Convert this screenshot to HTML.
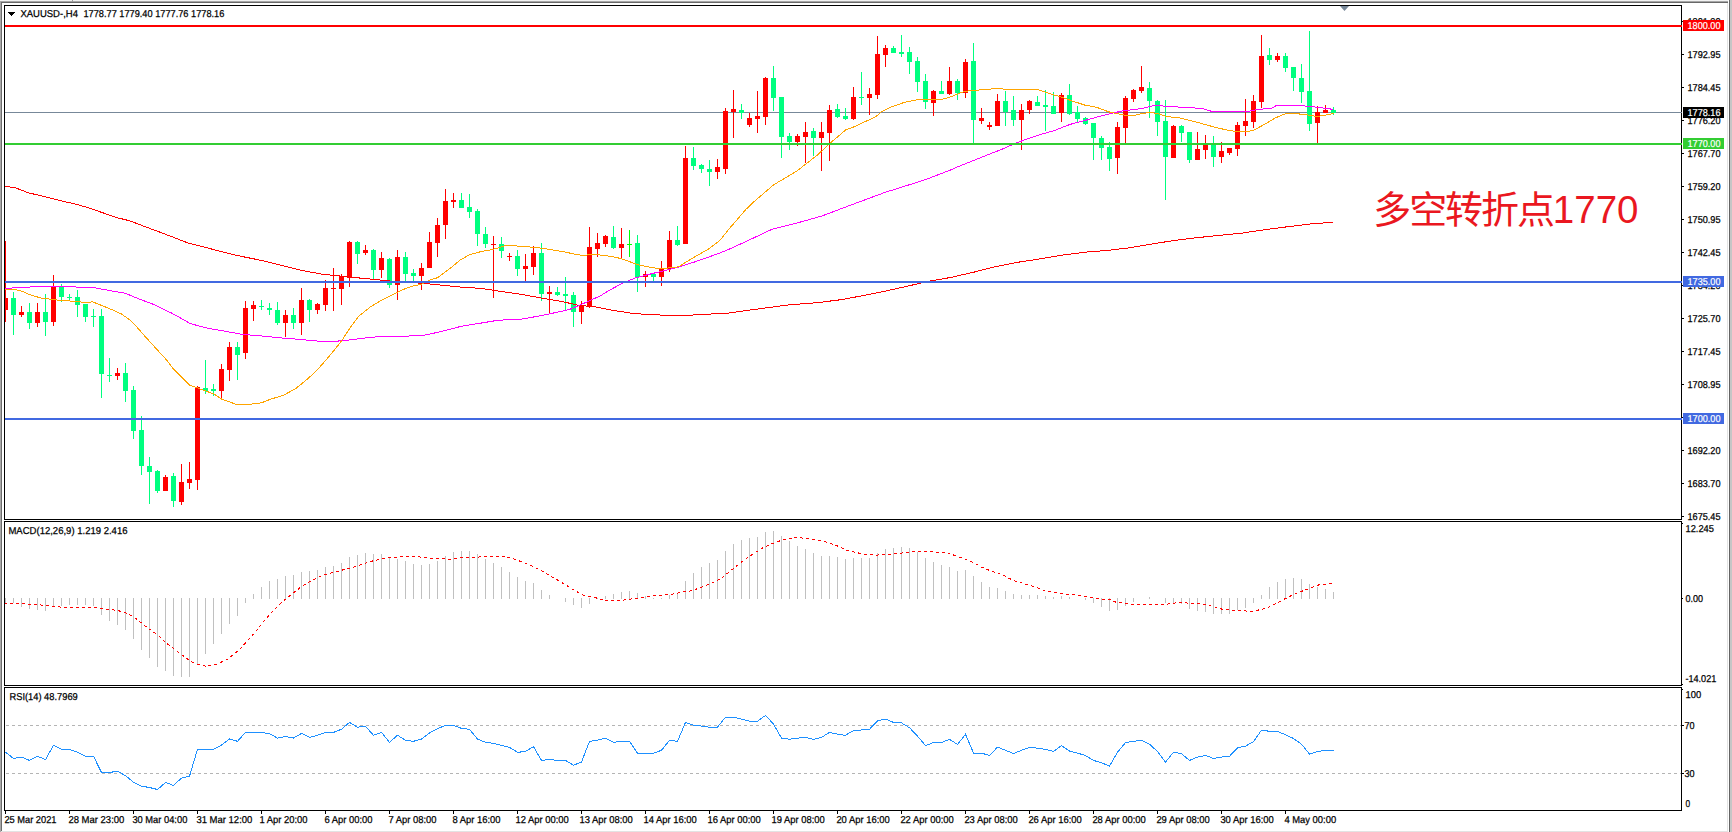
<!DOCTYPE html>
<html><head><meta charset="utf-8"><title>XAUUSD-,H4</title>
<style>
html,body{margin:0;padding:0;background:#fff;width:1732px;height:832px;overflow:hidden}
svg{display:block}
.t{font-family:"Liberation Sans", Arial, sans-serif;font-size:10px;fill:#000;stroke:#000;stroke-width:0.25px;text-rendering:geometricPrecision}
.w{font-family:"Liberation Sans", Arial, sans-serif;font-size:10px;fill:#fff;stroke:#fff;stroke-width:0.2px;text-rendering:geometricPrecision}
.cn{font-family:"Liberation Sans","Noto Sans CJK SC",sans-serif;font-size:36px;fill:#ea1720}
</style></head><body>
<svg width="1732" height="832" viewBox="0 0 1732 832">
<defs>
<clipPath id="cm"><rect x="5" y="6" width="1676" height="513"/></clipPath>
<clipPath id="cd"><rect x="5" y="522" width="1676" height="163"/></clipPath>
<clipPath id="cr"><rect x="5" y="688" width="1676" height="122"/></clipPath>
</defs>
<rect x="0" y="0" width="1732" height="832" fill="#fff"/>
<rect x="0" y="0" width="1728" height="1" fill="#f2f2f2"/>
<rect x="0" y="1" width="1728" height="1" fill="#a6a6a6"/>
<rect x="1" y="2" width="1727" height="1" fill="#686868"/>
<rect x="0" y="1" width="1" height="831" fill="#a8a8a8"/>
<rect x="1" y="2" width="1" height="829" fill="#6d6d6d"/>
<rect x="1727" y="3" width="1" height="829" fill="#e3e3e3"/>
<rect x="1729" y="0" width="1" height="832" fill="#646464"/>
<rect x="1730" y="0" width="2" height="832" fill="#c6c6c6"/>
<rect x="1" y="831" width="1727" height="1" fill="#e3e3e3"/>
<rect x="72" y="0" width="1" height="2" fill="#9a9a9a"/>
<rect x="4" y="5" width="1678" height="1" fill="#000"/>
<rect x="4" y="519" width="1678" height="1" fill="#000"/>
<rect x="4" y="5" width="1" height="515" fill="#000"/>
<rect x="1681" y="5" width="1" height="515" fill="#000"/>
<rect x="4" y="521" width="1678" height="1" fill="#000"/>
<rect x="4" y="685" width="1678" height="1" fill="#000"/>
<rect x="4" y="521" width="1" height="165" fill="#000"/>
<rect x="1681" y="521" width="1" height="165" fill="#000"/>
<rect x="4" y="687" width="1678" height="1" fill="#000"/>
<rect x="4" y="810" width="1678" height="1" fill="#000"/>
<rect x="4" y="687" width="1" height="124" fill="#000"/>
<rect x="1681" y="687" width="1" height="124" fill="#000"/>
<rect x="5" y="112" width="1677" height="1" fill="#778899"/>
<g clip-path="url(#cm)" shape-rendering="crispEdges">
<rect x="5" y="241" width="1" height="81" fill="#ff0000"/>
<rect x="3" y="298" width="5" height="12" fill="#ff0000"/>
<rect x="13" y="292" width="1" height="43" fill="#00ff7f"/>
<rect x="11" y="298" width="5" height="17" fill="#00ff7f"/>
<rect x="21" y="306" width="1" height="11" fill="#ff0000"/>
<rect x="19" y="312" width="5" height="3" fill="#ff0000"/>
<rect x="29" y="303" width="1" height="26" fill="#00ff7f"/>
<rect x="27" y="312" width="5" height="11" fill="#00ff7f"/>
<rect x="37" y="303" width="1" height="24" fill="#ff0000"/>
<rect x="35" y="312" width="5" height="11" fill="#ff0000"/>
<rect x="45" y="294" width="1" height="42" fill="#00ff7f"/>
<rect x="43" y="312" width="5" height="10" fill="#00ff7f"/>
<rect x="53" y="275" width="1" height="51" fill="#ff0000"/>
<rect x="51" y="286" width="5" height="36" fill="#ff0000"/>
<rect x="61" y="284" width="1" height="18" fill="#00ff7f"/>
<rect x="59" y="287" width="5" height="10" fill="#00ff7f"/>
<rect x="69" y="294" width="1" height="6" fill="#00ff7f"/>
<rect x="67" y="297" width="5" height="1" fill="#00ff7f"/>
<rect x="77" y="290" width="1" height="27" fill="#00ff7f"/>
<rect x="75" y="297" width="5" height="8" fill="#00ff7f"/>
<rect x="85" y="304" width="1" height="18" fill="#00ff7f"/>
<rect x="83" y="304" width="5" height="13" fill="#00ff7f"/>
<rect x="93" y="309" width="1" height="18" fill="#00ff7f"/>
<rect x="91" y="316" width="5" height="1" fill="#00ff7f"/>
<rect x="101" y="309" width="1" height="89" fill="#00ff7f"/>
<rect x="99" y="316" width="5" height="58" fill="#00ff7f"/>
<rect x="109" y="358" width="1" height="24" fill="#00ff7f"/>
<rect x="107" y="375" width="5" height="1" fill="#00ff7f"/>
<rect x="117" y="368" width="1" height="12" fill="#ff0000"/>
<rect x="115" y="373" width="5" height="3" fill="#ff0000"/>
<rect x="125" y="363" width="1" height="39" fill="#00ff7f"/>
<rect x="123" y="373" width="5" height="18" fill="#00ff7f"/>
<rect x="133" y="386" width="1" height="53" fill="#00ff7f"/>
<rect x="131" y="390" width="5" height="41" fill="#00ff7f"/>
<rect x="141" y="416" width="1" height="59" fill="#00ff7f"/>
<rect x="139" y="430" width="5" height="36" fill="#00ff7f"/>
<rect x="149" y="457" width="1" height="47" fill="#00ff7f"/>
<rect x="147" y="466" width="5" height="6" fill="#00ff7f"/>
<rect x="157" y="470" width="1" height="23" fill="#00ff7f"/>
<rect x="155" y="471" width="5" height="20" fill="#00ff7f"/>
<rect x="165" y="475" width="1" height="16" fill="#ff0000"/>
<rect x="163" y="477" width="5" height="14" fill="#ff0000"/>
<rect x="173" y="473" width="1" height="34" fill="#00ff7f"/>
<rect x="171" y="476" width="5" height="25" fill="#00ff7f"/>
<rect x="181" y="464" width="1" height="41" fill="#ff0000"/>
<rect x="179" y="482" width="5" height="20" fill="#ff0000"/>
<rect x="189" y="462" width="1" height="27" fill="#ff0000"/>
<rect x="187" y="479" width="5" height="4" fill="#ff0000"/>
<rect x="197" y="386" width="1" height="104" fill="#ff0000"/>
<rect x="195" y="387" width="5" height="93" fill="#ff0000"/>
<rect x="205" y="360" width="1" height="34" fill="#00ff7f"/>
<rect x="203" y="388" width="5" height="3" fill="#00ff7f"/>
<rect x="213" y="384" width="1" height="12" fill="#00ff7f"/>
<rect x="211" y="389" width="5" height="2" fill="#00ff7f"/>
<rect x="221" y="364" width="1" height="34" fill="#ff0000"/>
<rect x="219" y="369" width="5" height="22" fill="#ff0000"/>
<rect x="229" y="342" width="1" height="39" fill="#ff0000"/>
<rect x="227" y="347" width="5" height="23" fill="#ff0000"/>
<rect x="237" y="342" width="1" height="38" fill="#00ff7f"/>
<rect x="235" y="347" width="5" height="8" fill="#00ff7f"/>
<rect x="245" y="301" width="1" height="58" fill="#ff0000"/>
<rect x="243" y="308" width="5" height="45" fill="#ff0000"/>
<rect x="253" y="301" width="1" height="20" fill="#ff0000"/>
<rect x="251" y="305" width="5" height="4" fill="#ff0000"/>
<rect x="261" y="300" width="1" height="10" fill="#00ff7f"/>
<rect x="259" y="306" width="5" height="1" fill="#00ff7f"/>
<rect x="269" y="303" width="1" height="12" fill="#00ff7f"/>
<rect x="267" y="308" width="5" height="2" fill="#00ff7f"/>
<rect x="277" y="302" width="1" height="23" fill="#00ff7f"/>
<rect x="275" y="310" width="5" height="13" fill="#00ff7f"/>
<rect x="285" y="310" width="1" height="27" fill="#ff0000"/>
<rect x="283" y="315" width="5" height="8" fill="#ff0000"/>
<rect x="293" y="308" width="1" height="21" fill="#00ff7f"/>
<rect x="291" y="315" width="5" height="8" fill="#00ff7f"/>
<rect x="301" y="288" width="1" height="47" fill="#ff0000"/>
<rect x="299" y="300" width="5" height="23" fill="#ff0000"/>
<rect x="309" y="299" width="1" height="23" fill="#00ff7f"/>
<rect x="307" y="300" width="5" height="10" fill="#00ff7f"/>
<rect x="317" y="303" width="1" height="11" fill="#ff0000"/>
<rect x="315" y="304" width="5" height="6" fill="#ff0000"/>
<rect x="325" y="280" width="1" height="31" fill="#ff0000"/>
<rect x="323" y="288" width="5" height="17" fill="#ff0000"/>
<rect x="333" y="268" width="1" height="43" fill="#ff0000"/>
<rect x="331" y="288" width="5" height="1" fill="#ff0000"/>
<rect x="341" y="274" width="1" height="31" fill="#ff0000"/>
<rect x="339" y="276" width="5" height="13" fill="#ff0000"/>
<rect x="349" y="241" width="1" height="46" fill="#ff0000"/>
<rect x="347" y="242" width="5" height="36" fill="#ff0000"/>
<rect x="357" y="241" width="1" height="23" fill="#00ff7f"/>
<rect x="355" y="242" width="5" height="12" fill="#00ff7f"/>
<rect x="365" y="245" width="1" height="10" fill="#ff0000"/>
<rect x="363" y="250" width="5" height="3" fill="#ff0000"/>
<rect x="373" y="249" width="1" height="30" fill="#00ff7f"/>
<rect x="371" y="250" width="5" height="20" fill="#00ff7f"/>
<rect x="381" y="252" width="1" height="26" fill="#ff0000"/>
<rect x="379" y="258" width="5" height="12" fill="#ff0000"/>
<rect x="389" y="258" width="1" height="30" fill="#00ff7f"/>
<rect x="387" y="259" width="5" height="26" fill="#00ff7f"/>
<rect x="397" y="250" width="1" height="50" fill="#ff0000"/>
<rect x="395" y="257" width="5" height="28" fill="#ff0000"/>
<rect x="405" y="252" width="1" height="30" fill="#00ff7f"/>
<rect x="403" y="257" width="5" height="17" fill="#00ff7f"/>
<rect x="413" y="269" width="1" height="12" fill="#00ff7f"/>
<rect x="411" y="273" width="5" height="3" fill="#00ff7f"/>
<rect x="421" y="263" width="1" height="27" fill="#ff0000"/>
<rect x="419" y="268" width="5" height="8" fill="#ff0000"/>
<rect x="429" y="232" width="1" height="36" fill="#ff0000"/>
<rect x="427" y="242" width="5" height="26" fill="#ff0000"/>
<rect x="437" y="218" width="1" height="39" fill="#ff0000"/>
<rect x="435" y="225" width="5" height="18" fill="#ff0000"/>
<rect x="445" y="189" width="1" height="50" fill="#ff0000"/>
<rect x="443" y="201" width="5" height="24" fill="#ff0000"/>
<rect x="453" y="193" width="1" height="15" fill="#ff0000"/>
<rect x="451" y="200" width="5" height="2" fill="#ff0000"/>
<rect x="461" y="193" width="1" height="15" fill="#00ff7f"/>
<rect x="459" y="200" width="5" height="8" fill="#00ff7f"/>
<rect x="469" y="194" width="1" height="24" fill="#00ff7f"/>
<rect x="467" y="207" width="5" height="5" fill="#00ff7f"/>
<rect x="477" y="209" width="1" height="37" fill="#00ff7f"/>
<rect x="475" y="211" width="5" height="23" fill="#00ff7f"/>
<rect x="485" y="227" width="1" height="21" fill="#00ff7f"/>
<rect x="483" y="234" width="5" height="10" fill="#00ff7f"/>
<rect x="493" y="236" width="1" height="62" fill="#ff0000"/>
<rect x="491" y="244" width="5" height="1" fill="#ff0000"/>
<rect x="501" y="237" width="1" height="21" fill="#00ff7f"/>
<rect x="499" y="244" width="5" height="7" fill="#00ff7f"/>
<rect x="509" y="253" width="1" height="8" fill="#ff0000"/>
<rect x="507" y="256" width="5" height="1" fill="#ff0000"/>
<rect x="517" y="250" width="1" height="26" fill="#00ff7f"/>
<rect x="515" y="256" width="5" height="13" fill="#00ff7f"/>
<rect x="525" y="254" width="1" height="27" fill="#ff0000"/>
<rect x="523" y="266" width="5" height="3" fill="#ff0000"/>
<rect x="533" y="246" width="1" height="29" fill="#ff0000"/>
<rect x="531" y="253" width="5" height="14" fill="#ff0000"/>
<rect x="541" y="243" width="1" height="58" fill="#00ff7f"/>
<rect x="539" y="253" width="5" height="41" fill="#00ff7f"/>
<rect x="549" y="286" width="1" height="27" fill="#ff0000"/>
<rect x="547" y="292" width="5" height="2" fill="#ff0000"/>
<rect x="557" y="287" width="1" height="9" fill="#00ff7f"/>
<rect x="555" y="292" width="5" height="3" fill="#00ff7f"/>
<rect x="565" y="277" width="1" height="33" fill="#00ff7f"/>
<rect x="563" y="294" width="5" height="2" fill="#00ff7f"/>
<rect x="573" y="292" width="1" height="35" fill="#00ff7f"/>
<rect x="571" y="295" width="5" height="17" fill="#00ff7f"/>
<rect x="581" y="301" width="1" height="23" fill="#ff0000"/>
<rect x="579" y="305" width="5" height="7" fill="#ff0000"/>
<rect x="589" y="227" width="1" height="81" fill="#ff0000"/>
<rect x="587" y="247" width="5" height="59" fill="#ff0000"/>
<rect x="597" y="233" width="1" height="24" fill="#ff0000"/>
<rect x="595" y="243" width="5" height="6" fill="#ff0000"/>
<rect x="605" y="235" width="1" height="12" fill="#ff0000"/>
<rect x="603" y="236" width="5" height="8" fill="#ff0000"/>
<rect x="613" y="226" width="1" height="23" fill="#00ff7f"/>
<rect x="611" y="237" width="5" height="11" fill="#00ff7f"/>
<rect x="621" y="228" width="1" height="31" fill="#ff0000"/>
<rect x="619" y="244" width="5" height="4" fill="#ff0000"/>
<rect x="629" y="230" width="1" height="27" fill="#00ff00"/>
<rect x="627" y="244" width="5" height="1" fill="#00ff00"/>
<rect x="637" y="235" width="1" height="57" fill="#00ff7f"/>
<rect x="635" y="243" width="5" height="34" fill="#00ff7f"/>
<rect x="645" y="271" width="1" height="16" fill="#ff0000"/>
<rect x="643" y="274" width="5" height="3" fill="#ff0000"/>
<rect x="653" y="274" width="1" height="7" fill="#00ff7f"/>
<rect x="651" y="274" width="5" height="3" fill="#00ff7f"/>
<rect x="661" y="261" width="1" height="25" fill="#ff0000"/>
<rect x="659" y="269" width="5" height="8" fill="#ff0000"/>
<rect x="669" y="231" width="1" height="41" fill="#ff0000"/>
<rect x="667" y="240" width="5" height="29" fill="#ff0000"/>
<rect x="677" y="226" width="1" height="20" fill="#00ff7f"/>
<rect x="675" y="240" width="5" height="5" fill="#00ff7f"/>
<rect x="685" y="146" width="1" height="98" fill="#ff0000"/>
<rect x="683" y="158" width="5" height="86" fill="#ff0000"/>
<rect x="693" y="147" width="1" height="23" fill="#00ff7f"/>
<rect x="691" y="158" width="5" height="8" fill="#00ff7f"/>
<rect x="701" y="164" width="1" height="9" fill="#00ff7f"/>
<rect x="699" y="165" width="5" height="4" fill="#00ff7f"/>
<rect x="709" y="160" width="1" height="26" fill="#00ff7f"/>
<rect x="707" y="169" width="5" height="3" fill="#00ff7f"/>
<rect x="717" y="159" width="1" height="20" fill="#ff0000"/>
<rect x="715" y="167" width="5" height="5" fill="#ff0000"/>
<rect x="725" y="108" width="1" height="66" fill="#ff0000"/>
<rect x="723" y="111" width="5" height="58" fill="#ff0000"/>
<rect x="733" y="90" width="1" height="48" fill="#ff0000"/>
<rect x="731" y="109" width="5" height="3" fill="#ff0000"/>
<rect x="741" y="104" width="1" height="15" fill="#00ff7f"/>
<rect x="739" y="110" width="5" height="3" fill="#00ff7f"/>
<rect x="749" y="113" width="1" height="14" fill="#ff0000"/>
<rect x="747" y="118" width="5" height="7" fill="#ff0000"/>
<rect x="757" y="91" width="1" height="42" fill="#ff0000"/>
<rect x="755" y="116" width="5" height="3" fill="#ff0000"/>
<rect x="765" y="77" width="1" height="48" fill="#ff0000"/>
<rect x="763" y="78" width="5" height="39" fill="#ff0000"/>
<rect x="773" y="66" width="1" height="45" fill="#00ff7f"/>
<rect x="771" y="78" width="5" height="20" fill="#00ff7f"/>
<rect x="781" y="97" width="1" height="61" fill="#00ff7f"/>
<rect x="779" y="97" width="5" height="40" fill="#00ff7f"/>
<rect x="789" y="133" width="1" height="17" fill="#00ff7f"/>
<rect x="787" y="136" width="5" height="6" fill="#00ff7f"/>
<rect x="797" y="134" width="1" height="12" fill="#ff0000"/>
<rect x="795" y="136" width="5" height="6" fill="#ff0000"/>
<rect x="805" y="122" width="1" height="41" fill="#ff0000"/>
<rect x="803" y="132" width="5" height="5" fill="#ff0000"/>
<rect x="813" y="128" width="1" height="28" fill="#00ff7f"/>
<rect x="811" y="131" width="5" height="7" fill="#00ff7f"/>
<rect x="821" y="122" width="1" height="49" fill="#ff0000"/>
<rect x="819" y="132" width="5" height="6" fill="#ff0000"/>
<rect x="829" y="105" width="1" height="56" fill="#ff0000"/>
<rect x="827" y="110" width="5" height="23" fill="#ff0000"/>
<rect x="837" y="104" width="1" height="14" fill="#00ff7f"/>
<rect x="835" y="109" width="5" height="8" fill="#00ff7f"/>
<rect x="845" y="108" width="1" height="12" fill="#00ff7f"/>
<rect x="843" y="116" width="5" height="3" fill="#00ff7f"/>
<rect x="853" y="87" width="1" height="33" fill="#ff0000"/>
<rect x="851" y="97" width="5" height="22" fill="#ff0000"/>
<rect x="861" y="72" width="1" height="33" fill="#00ff7f"/>
<rect x="859" y="97" width="5" height="1" fill="#00ff7f"/>
<rect x="869" y="88" width="1" height="27" fill="#ff0000"/>
<rect x="867" y="94" width="5" height="4" fill="#ff0000"/>
<rect x="877" y="36" width="1" height="63" fill="#ff0000"/>
<rect x="875" y="54" width="5" height="41" fill="#ff0000"/>
<rect x="885" y="45" width="1" height="22" fill="#ff0000"/>
<rect x="883" y="48" width="5" height="7" fill="#ff0000"/>
<rect x="893" y="46" width="1" height="7" fill="#00ff7f"/>
<rect x="891" y="48" width="5" height="5" fill="#00ff7f"/>
<rect x="901" y="35" width="1" height="22" fill="#00ff7f"/>
<rect x="899" y="52" width="5" height="2" fill="#00ff7f"/>
<rect x="909" y="47" width="1" height="27" fill="#00ff7f"/>
<rect x="907" y="52" width="5" height="10" fill="#00ff7f"/>
<rect x="917" y="57" width="1" height="35" fill="#00ff7f"/>
<rect x="915" y="61" width="5" height="21" fill="#00ff7f"/>
<rect x="925" y="74" width="1" height="35" fill="#00ff7f"/>
<rect x="923" y="81" width="5" height="21" fill="#00ff7f"/>
<rect x="933" y="90" width="1" height="26" fill="#ff0000"/>
<rect x="931" y="91" width="5" height="12" fill="#ff0000"/>
<rect x="941" y="81" width="1" height="13" fill="#00ff7f"/>
<rect x="939" y="91" width="5" height="3" fill="#00ff7f"/>
<rect x="949" y="67" width="1" height="28" fill="#ff0000"/>
<rect x="947" y="81" width="5" height="13" fill="#ff0000"/>
<rect x="957" y="79" width="1" height="21" fill="#00ff7f"/>
<rect x="955" y="81" width="5" height="12" fill="#00ff7f"/>
<rect x="965" y="59" width="1" height="39" fill="#ff0000"/>
<rect x="963" y="62" width="5" height="31" fill="#ff0000"/>
<rect x="973" y="43" width="1" height="102" fill="#00ff7f"/>
<rect x="971" y="61" width="5" height="59" fill="#00ff7f"/>
<rect x="981" y="108" width="1" height="16" fill="#ff0000"/>
<rect x="979" y="118" width="5" height="3" fill="#ff0000"/>
<rect x="989" y="122" width="1" height="8" fill="#ff0000"/>
<rect x="987" y="125" width="5" height="2" fill="#ff0000"/>
<rect x="997" y="94" width="1" height="32" fill="#ff0000"/>
<rect x="995" y="101" width="5" height="25" fill="#ff0000"/>
<rect x="1005" y="91" width="1" height="35" fill="#00ff7f"/>
<rect x="1003" y="101" width="5" height="11" fill="#00ff7f"/>
<rect x="1013" y="96" width="1" height="30" fill="#00ff7f"/>
<rect x="1011" y="110" width="5" height="10" fill="#00ff7f"/>
<rect x="1021" y="104" width="1" height="46" fill="#ff0000"/>
<rect x="1019" y="110" width="5" height="10" fill="#ff0000"/>
<rect x="1029" y="100" width="1" height="14" fill="#ff0000"/>
<rect x="1027" y="101" width="5" height="9" fill="#ff0000"/>
<rect x="1037" y="96" width="1" height="10" fill="#00ff7f"/>
<rect x="1035" y="102" width="5" height="4" fill="#00ff7f"/>
<rect x="1045" y="90" width="1" height="41" fill="#00ff7f"/>
<rect x="1043" y="105" width="5" height="2" fill="#00ff7f"/>
<rect x="1053" y="92" width="1" height="22" fill="#00ff7f"/>
<rect x="1051" y="106" width="5" height="8" fill="#00ff7f"/>
<rect x="1061" y="93" width="1" height="29" fill="#ff0000"/>
<rect x="1059" y="95" width="5" height="18" fill="#ff0000"/>
<rect x="1069" y="84" width="1" height="31" fill="#00ff7f"/>
<rect x="1067" y="95" width="5" height="19" fill="#00ff7f"/>
<rect x="1077" y="106" width="1" height="17" fill="#00ff7f"/>
<rect x="1075" y="112" width="5" height="7" fill="#00ff7f"/>
<rect x="1085" y="117" width="1" height="8" fill="#00ff7f"/>
<rect x="1083" y="118" width="5" height="6" fill="#00ff7f"/>
<rect x="1093" y="123" width="1" height="37" fill="#00ff7f"/>
<rect x="1091" y="123" width="5" height="15" fill="#00ff7f"/>
<rect x="1101" y="136" width="1" height="24" fill="#00ff7f"/>
<rect x="1099" y="138" width="5" height="10" fill="#00ff7f"/>
<rect x="1109" y="142" width="1" height="29" fill="#00ff7f"/>
<rect x="1107" y="147" width="5" height="12" fill="#00ff7f"/>
<rect x="1117" y="122" width="1" height="52" fill="#ff0000"/>
<rect x="1115" y="127" width="5" height="31" fill="#ff0000"/>
<rect x="1125" y="96" width="1" height="47" fill="#ff0000"/>
<rect x="1123" y="98" width="5" height="30" fill="#ff0000"/>
<rect x="1133" y="89" width="1" height="13" fill="#ff0000"/>
<rect x="1131" y="90" width="5" height="9" fill="#ff0000"/>
<rect x="1141" y="66" width="1" height="27" fill="#ff0000"/>
<rect x="1139" y="87" width="5" height="4" fill="#ff0000"/>
<rect x="1149" y="82" width="1" height="36" fill="#00ff7f"/>
<rect x="1147" y="88" width="5" height="13" fill="#00ff7f"/>
<rect x="1157" y="100" width="1" height="36" fill="#00ff7f"/>
<rect x="1155" y="101" width="5" height="21" fill="#00ff7f"/>
<rect x="1165" y="100" width="1" height="100" fill="#00ff7f"/>
<rect x="1163" y="121" width="5" height="36" fill="#00ff7f"/>
<rect x="1173" y="125" width="1" height="33" fill="#ff0000"/>
<rect x="1171" y="126" width="5" height="32" fill="#ff0000"/>
<rect x="1181" y="125" width="1" height="17" fill="#00ff7f"/>
<rect x="1179" y="126" width="5" height="7" fill="#00ff7f"/>
<rect x="1189" y="132" width="1" height="31" fill="#00ff7f"/>
<rect x="1187" y="132" width="5" height="28" fill="#00ff7f"/>
<rect x="1197" y="132" width="1" height="28" fill="#ff0000"/>
<rect x="1195" y="149" width="5" height="11" fill="#ff0000"/>
<rect x="1205" y="135" width="1" height="24" fill="#ff0000"/>
<rect x="1203" y="145" width="5" height="5" fill="#ff0000"/>
<rect x="1213" y="136" width="1" height="31" fill="#00ff7f"/>
<rect x="1211" y="145" width="5" height="12" fill="#00ff7f"/>
<rect x="1221" y="142" width="1" height="21" fill="#ff0000"/>
<rect x="1219" y="151" width="5" height="6" fill="#ff0000"/>
<rect x="1229" y="148" width="1" height="7" fill="#ff0000"/>
<rect x="1227" y="148" width="5" height="5" fill="#ff0000"/>
<rect x="1237" y="122" width="1" height="34" fill="#ff0000"/>
<rect x="1235" y="125" width="5" height="24" fill="#ff0000"/>
<rect x="1245" y="99" width="1" height="37" fill="#ff0000"/>
<rect x="1243" y="121" width="5" height="5" fill="#ff0000"/>
<rect x="1253" y="95" width="1" height="33" fill="#ff0000"/>
<rect x="1251" y="101" width="5" height="21" fill="#ff0000"/>
<rect x="1261" y="35" width="1" height="73" fill="#ff0000"/>
<rect x="1259" y="56" width="5" height="46" fill="#ff0000"/>
<rect x="1269" y="48" width="1" height="17" fill="#00ff7f"/>
<rect x="1267" y="55" width="5" height="5" fill="#00ff7f"/>
<rect x="1277" y="53" width="1" height="9" fill="#ff0000"/>
<rect x="1275" y="56" width="5" height="4" fill="#ff0000"/>
<rect x="1285" y="53" width="1" height="19" fill="#00ff7f"/>
<rect x="1283" y="56" width="5" height="12" fill="#00ff7f"/>
<rect x="1293" y="67" width="1" height="24" fill="#00ff7f"/>
<rect x="1291" y="67" width="5" height="11" fill="#00ff7f"/>
<rect x="1301" y="64" width="1" height="39" fill="#00ff7f"/>
<rect x="1299" y="78" width="5" height="14" fill="#00ff7f"/>
<rect x="1309" y="31" width="1" height="100" fill="#00ff7f"/>
<rect x="1307" y="91" width="5" height="33" fill="#00ff7f"/>
<rect x="1317" y="106" width="1" height="37" fill="#ff0000"/>
<rect x="1315" y="112" width="5" height="11" fill="#ff0000"/>
<rect x="1325" y="105" width="1" height="8" fill="#ff0000"/>
<rect x="1323" y="110" width="5" height="3" fill="#ff0000"/>
<rect x="1333" y="107" width="1" height="8" fill="#00ff7f"/>
<rect x="1331" y="110" width="5" height="3" fill="#00ff7f"/>
</g>
<g clip-path="url(#cm)" fill="none" stroke-width="1" shape-rendering="crispEdges">
<polyline points="4.8,186.2 15.1,187.7 28.1,192.7 43.3,196.4 60.6,200.7 75.7,204.2 86.5,207.2 101.7,212.4 116.8,217.6 129.8,220.8 142.8,225.8 155.7,230.6 173.0,237.1 188.2,243.1 205.5,247.4 225.0,252.6 240.0,256.1 260.4,260.2 280.9,265.3 301.3,270.4 321.7,274.1 340.0,276.0 360.4,278.1 380.9,280.1 401.3,282.2 421.7,283.2 442.2,285.2 462.6,287.3 480.4,288.3 500.9,291.4 521.3,294.4 541.7,298.1 562.2,301.6 580.0,305.6 593.2,306.5 612.9,310.4 634.8,313.7 656.8,314.8 676.5,315.9 696.3,314.8 729.2,313.0 755.5,309.3 788.4,304.9 817.0,302.7 843.3,299.4 865.2,295.1 887.2,290.7 909.1,285.8 931.0,280.8 950.0,277.6 972.5,272.5 995.0,266.8 1017.6,262.3 1040.1,258.9 1062.6,255.1 1085.1,252.2 1107.6,250.4 1130.1,247.7 1152.7,243.9 1175.2,240.3 1197.7,237.6 1220.2,235.3 1242.7,233.0 1265.2,229.7 1287.8,226.7 1310.3,224.0 1332.8,222.2" stroke="#ff0000"/>
<polyline points="5.0,289.0 17.3,287.2 43.3,286.8 71.4,286.8 95.2,287.9 112.5,291.1 125.5,293.3 138.4,298.7 155.7,305.2 173.0,313.8 190.4,323.6 207.7,328.3 225.0,331.2 242.3,334.4 260.4,335.8 280.9,337.9 301.3,339.5 321.7,341.5 342.2,340.9 362.6,338.3 380.0,336.5 400.9,336.5 424.7,335.1 440.6,331.7 460.8,326.4 481.0,323.1 498.3,320.2 521.4,319.2 535.8,316.6 550.3,313.7 568.8,309.7 578.0,306.0 588.6,301.1 596.0,297.8 601.0,295.5 608.5,290.7 622.9,283.0 636.4,277.6 653.7,273.2 663.3,270.9 677.7,267.4 696.0,261.5 711.6,256.0 720.0,253.0 730.0,248.8 745.6,241.7 772.2,229.2 795.6,223.4 822.2,215.9 848.8,205.8 884.7,192.5 925.3,179.7 950.0,170.2 960.0,165.9 972.7,160.8 1001.3,149.5 1017.6,142.4 1038.0,135.2 1054.4,130.5 1070.0,124.4 1080.4,121.7 1100.9,116.0 1121.3,111.1 1141.7,108.5 1156.0,105.0 1166.3,106.4 1185.7,107.4 1201.5,108.4 1212.3,111.5 1247.5,111.5 1257.7,109.4 1271.0,108.4 1276.0,105.8 1288.4,105.5 1302.0,105.8 1310.0,106.4 1318.0,107.4 1326.0,108.4 1333.5,109.4" stroke="#ff00ff"/>
<polyline points="5.0,289.5 13.0,289.0 21.6,291.1 30.6,295.0 40.9,298.0 51.9,299.4 61.3,300.5 69.2,300.9 81.7,302.1 93.0,302.0 102.0,305.6 114.4,310.7 121.1,313.8 130.0,320.0 134.1,324.0 147.1,338.7 155.8,348.2 167.0,360.4 173.0,368.6 181.3,376.8 189.5,385.0 197.6,388.0 205.8,391.0 214.0,394.1 222.0,399.3 236.5,404.4 248.7,404.4 261.5,402.8 270.6,399.2 282.9,395.5 295.2,389.0 305.4,380.8 315.6,371.6 325.8,360.3 336.0,348.0 342.2,339.9 350.3,327.6 358.5,316.4 370.6,306.7 380.9,300.6 391.0,295.4 401.3,290.3 411.5,286.3 421.7,284.2 429.9,280.1 437.7,277.6 449.3,269.0 460.8,259.6 469.5,254.8 481.0,251.6 492.6,249.5 507.0,245.2 521.3,246.4 535.6,247.4 549.9,249.5 562.2,251.5 574.4,254.0 582.6,255.6 592.3,254.4 604.5,255.4 616.8,257.5 627.0,260.6 637.2,264.6 647.4,266.7 659.7,268.7 672.0,267.7 673.0,268.1 679.7,266.2 687.3,261.3 696.0,256.1 708.4,249.2 720.0,240.3 729.2,228.8 745.6,209.7 753.4,202.2 773.8,184.7 797.2,170.9 803.4,165.9 817.5,155.0 830.0,143.3 845.6,130.0 852.7,127.4 866.9,120.8 876.0,116.6 881.8,111.5 890.4,107.2 904.9,102.2 916.4,100.0 926.5,99.7 942.4,99.3 951.0,96.7 962.6,92.0 969.8,90.6 976.0,90.3 993.1,88.8 1017.6,89.3 1038.0,89.7 1050.3,93.8 1062.6,97.4 1070.2,100.3 1084.5,105.0 1096.8,107.4 1109.0,111.9 1121.3,114.6 1131.5,116.0 1141.7,113.6 1149.9,112.5 1158.0,113.6 1166.3,116.6 1178.5,117.6 1196.3,122.0 1216.9,127.8 1227.1,130.0 1233.2,131.1 1247.5,131.4 1253.6,130.3 1263.8,124.7 1276.0,117.6 1286.3,113.4 1303.6,114.2 1310.0,115.5 1317.0,116.5 1324.0,115.5 1329.0,114.4 1333.5,113.4" stroke="#ffa500"/>
</g>
<g shape-rendering="crispEdges">
<rect x="5" y="25" width="1677" height="2" fill="#ff0000"/>
<rect x="5" y="143" width="1677" height="2" fill="#32cd32"/>
<rect x="5" y="281" width="1677" height="2" fill="#4169e1"/>
<rect x="5" y="418" width="1677" height="2" fill="#4169e1"/>
</g>
<polygon points="1340,6 1349,6 1344.5,11" fill="#778899"/>
<g shape-rendering="crispEdges" fill="#000"><rect x="8" y="12" width="7" height="1"/><rect x="9" y="13" width="5" height="1"/><rect x="10" y="14" width="3" height="1"/><rect x="11" y="15" width="1" height="1"/></g>
<text class="t" x="20.40" y="17" textLength="57.55" lengthAdjust="spacingAndGlyphs">XAUUSD-,H4</text>
<text class="t" x="83.48" y="17" textLength="140.86" lengthAdjust="spacingAndGlyphs">1778.77 1779.40 1777.76 1778.16</text>
<rect x="1682" y="21" width="2" height="1" fill="#000"/>
<text class="t" x="1687.49" y="25" textLength="33.06" lengthAdjust="spacingAndGlyphs">1801.20</text>
<rect x="1682" y="54" width="2" height="1" fill="#000"/>
<text class="t" x="1687.49" y="58" textLength="33.06" lengthAdjust="spacingAndGlyphs">1792.95</text>
<rect x="1682" y="87" width="2" height="1" fill="#000"/>
<text class="t" x="1687.49" y="91" textLength="33.06" lengthAdjust="spacingAndGlyphs">1784.45</text>
<rect x="1682" y="120" width="2" height="1" fill="#000"/>
<text class="t" x="1687.49" y="124" textLength="33.06" lengthAdjust="spacingAndGlyphs">1776.20</text>
<rect x="1682" y="153" width="2" height="1" fill="#000"/>
<text class="t" x="1687.49" y="157" textLength="33.06" lengthAdjust="spacingAndGlyphs">1767.70</text>
<rect x="1682" y="186" width="2" height="1" fill="#000"/>
<text class="t" x="1687.49" y="190" textLength="33.06" lengthAdjust="spacingAndGlyphs">1759.20</text>
<rect x="1682" y="219" width="2" height="1" fill="#000"/>
<text class="t" x="1687.49" y="223" textLength="33.06" lengthAdjust="spacingAndGlyphs">1750.95</text>
<rect x="1682" y="252" width="2" height="1" fill="#000"/>
<text class="t" x="1687.49" y="256" textLength="33.06" lengthAdjust="spacingAndGlyphs">1742.45</text>
<rect x="1682" y="285" width="2" height="1" fill="#000"/>
<text class="t" x="1687.49" y="289" textLength="33.06" lengthAdjust="spacingAndGlyphs">1734.20</text>
<rect x="1682" y="318" width="2" height="1" fill="#000"/>
<text class="t" x="1687.49" y="322" textLength="33.06" lengthAdjust="spacingAndGlyphs">1725.70</text>
<rect x="1682" y="351" width="2" height="1" fill="#000"/>
<text class="t" x="1687.49" y="355" textLength="33.06" lengthAdjust="spacingAndGlyphs">1717.45</text>
<rect x="1682" y="384" width="2" height="1" fill="#000"/>
<text class="t" x="1687.49" y="388" textLength="33.06" lengthAdjust="spacingAndGlyphs">1708.95</text>
<rect x="1682" y="417" width="2" height="1" fill="#000"/>
<text class="t" x="1687.49" y="421" textLength="33.06" lengthAdjust="spacingAndGlyphs">1700.45</text>
<rect x="1682" y="450" width="2" height="1" fill="#000"/>
<text class="t" x="1687.49" y="454" textLength="33.06" lengthAdjust="spacingAndGlyphs">1692.20</text>
<rect x="1682" y="483" width="2" height="1" fill="#000"/>
<text class="t" x="1687.49" y="487" textLength="33.06" lengthAdjust="spacingAndGlyphs">1683.70</text>
<rect x="1682" y="516" width="2" height="1" fill="#000"/>
<text class="t" x="1687.49" y="520" textLength="33.06" lengthAdjust="spacingAndGlyphs">1675.45</text>
<rect x="1683" y="20" width="41" height="11" fill="#ff0000"/>
<text class="w" x="1687.49" y="29" textLength="33.06" lengthAdjust="spacingAndGlyphs">1800.00</text>
<rect x="1683" y="107" width="41" height="11" fill="#000000"/>
<text class="w" x="1687.49" y="116" textLength="33.06" lengthAdjust="spacingAndGlyphs">1778.16</text>
<rect x="1683" y="138" width="41" height="11" fill="#32cd32"/>
<text class="w" x="1687.49" y="147" textLength="33.06" lengthAdjust="spacingAndGlyphs">1770.00</text>
<rect x="1683" y="276" width="41" height="11" fill="#4169e1"/>
<text class="w" x="1687.49" y="285" textLength="33.06" lengthAdjust="spacingAndGlyphs">1735.00</text>
<rect x="1683" y="413" width="41" height="11" fill="#4169e1"/>
<text class="w" x="1687.49" y="422" textLength="33.06" lengthAdjust="spacingAndGlyphs">1700.00</text>
<text class="cn" x="1373.3" y="223"><tspan style="font-size:38px;letter-spacing:-2.1px">多空转折点</tspan><tspan style="font-size:38.5px">1770</tspan></text>
<g clip-path="url(#cd)" shape-rendering="crispEdges">
<rect x="5" y="598" width="1" height="5" fill="#c0c0c0"/>
<rect x="13" y="598" width="1" height="5" fill="#c0c0c0"/>
<rect x="21" y="598" width="1" height="9" fill="#c0c0c0"/>
<rect x="29" y="598" width="1" height="11" fill="#c0c0c0"/>
<rect x="37" y="598" width="1" height="12" fill="#c0c0c0"/>
<rect x="45" y="598" width="1" height="13" fill="#c0c0c0"/>
<rect x="53" y="598" width="1" height="8" fill="#c0c0c0"/>
<rect x="61" y="598" width="1" height="8" fill="#c0c0c0"/>
<rect x="69" y="598" width="1" height="7" fill="#c0c0c0"/>
<rect x="77" y="598" width="1" height="7" fill="#c0c0c0"/>
<rect x="85" y="598" width="1" height="7" fill="#c0c0c0"/>
<rect x="93" y="598" width="1" height="8" fill="#c0c0c0"/>
<rect x="101" y="598" width="1" height="17" fill="#c0c0c0"/>
<rect x="109" y="598" width="1" height="23" fill="#c0c0c0"/>
<rect x="117" y="598" width="1" height="27" fill="#c0c0c0"/>
<rect x="125" y="598" width="1" height="32" fill="#c0c0c0"/>
<rect x="133" y="598" width="1" height="41" fill="#c0c0c0"/>
<rect x="141" y="598" width="1" height="52" fill="#c0c0c0"/>
<rect x="149" y="598" width="1" height="60" fill="#c0c0c0"/>
<rect x="157" y="598" width="1" height="69" fill="#c0c0c0"/>
<rect x="165" y="598" width="1" height="73" fill="#c0c0c0"/>
<rect x="173" y="598" width="1" height="78" fill="#c0c0c0"/>
<rect x="181" y="598" width="1" height="79" fill="#c0c0c0"/>
<rect x="189" y="598" width="1" height="79" fill="#c0c0c0"/>
<rect x="197" y="598" width="1" height="67" fill="#c0c0c0"/>
<rect x="205" y="598" width="1" height="56" fill="#c0c0c0"/>
<rect x="213" y="598" width="1" height="46" fill="#c0c0c0"/>
<rect x="221" y="598" width="1" height="36" fill="#c0c0c0"/>
<rect x="229" y="598" width="1" height="26" fill="#c0c0c0"/>
<rect x="237" y="598" width="1" height="18" fill="#c0c0c0"/>
<rect x="245" y="598" width="1" height="5" fill="#c0c0c0"/>
<rect x="253" y="594" width="1" height="5" fill="#c0c0c0"/>
<rect x="261" y="587" width="1" height="12" fill="#c0c0c0"/>
<rect x="269" y="581" width="1" height="18" fill="#c0c0c0"/>
<rect x="277" y="579" width="1" height="20" fill="#c0c0c0"/>
<rect x="285" y="576" width="1" height="23" fill="#c0c0c0"/>
<rect x="293" y="575" width="1" height="24" fill="#c0c0c0"/>
<rect x="301" y="572" width="1" height="27" fill="#c0c0c0"/>
<rect x="309" y="571" width="1" height="28" fill="#c0c0c0"/>
<rect x="317" y="570" width="1" height="29" fill="#c0c0c0"/>
<rect x="325" y="567" width="1" height="32" fill="#c0c0c0"/>
<rect x="333" y="566" width="1" height="33" fill="#c0c0c0"/>
<rect x="341" y="563" width="1" height="36" fill="#c0c0c0"/>
<rect x="349" y="557" width="1" height="42" fill="#c0c0c0"/>
<rect x="357" y="555" width="1" height="44" fill="#c0c0c0"/>
<rect x="365" y="553" width="1" height="46" fill="#c0c0c0"/>
<rect x="373" y="554" width="1" height="45" fill="#c0c0c0"/>
<rect x="381" y="554" width="1" height="45" fill="#c0c0c0"/>
<rect x="389" y="558" width="1" height="41" fill="#c0c0c0"/>
<rect x="397" y="559" width="1" height="40" fill="#c0c0c0"/>
<rect x="405" y="561" width="1" height="38" fill="#c0c0c0"/>
<rect x="413" y="564" width="1" height="35" fill="#c0c0c0"/>
<rect x="421" y="565" width="1" height="34" fill="#c0c0c0"/>
<rect x="429" y="564" width="1" height="35" fill="#c0c0c0"/>
<rect x="437" y="561" width="1" height="38" fill="#c0c0c0"/>
<rect x="445" y="556" width="1" height="43" fill="#c0c0c0"/>
<rect x="453" y="552" width="1" height="47" fill="#c0c0c0"/>
<rect x="461" y="551" width="1" height="48" fill="#c0c0c0"/>
<rect x="469" y="551" width="1" height="48" fill="#c0c0c0"/>
<rect x="477" y="554" width="1" height="45" fill="#c0c0c0"/>
<rect x="485" y="559" width="1" height="40" fill="#c0c0c0"/>
<rect x="493" y="563" width="1" height="36" fill="#c0c0c0"/>
<rect x="501" y="567" width="1" height="32" fill="#c0c0c0"/>
<rect x="509" y="572" width="1" height="27" fill="#c0c0c0"/>
<rect x="517" y="577" width="1" height="22" fill="#c0c0c0"/>
<rect x="525" y="581" width="1" height="18" fill="#c0c0c0"/>
<rect x="533" y="583" width="1" height="16" fill="#c0c0c0"/>
<rect x="541" y="590" width="1" height="9" fill="#c0c0c0"/>
<rect x="549" y="595" width="1" height="4" fill="#c0c0c0"/>
<rect x="565" y="598" width="1" height="4" fill="#c0c0c0"/>
<rect x="573" y="598" width="1" height="7" fill="#c0c0c0"/>
<rect x="581" y="598" width="1" height="10" fill="#c0c0c0"/>
<rect x="589" y="598" width="1" height="6" fill="#c0c0c0"/>
<rect x="597" y="598" width="1" height="1" fill="#c0c0c0"/>
<rect x="605" y="596" width="1" height="3" fill="#c0c0c0"/>
<rect x="613" y="594" width="1" height="5" fill="#c0c0c0"/>
<rect x="621" y="592" width="1" height="7" fill="#c0c0c0"/>
<rect x="629" y="591" width="1" height="8" fill="#c0c0c0"/>
<rect x="637" y="593" width="1" height="6" fill="#c0c0c0"/>
<rect x="645" y="596" width="1" height="3" fill="#c0c0c0"/>
<rect x="653" y="598" width="1" height="1" fill="#c0c0c0"/>
<rect x="661" y="598" width="1" height="1" fill="#c0c0c0"/>
<rect x="669" y="595" width="1" height="4" fill="#c0c0c0"/>
<rect x="677" y="593" width="1" height="6" fill="#c0c0c0"/>
<rect x="685" y="581" width="1" height="18" fill="#c0c0c0"/>
<rect x="693" y="573" width="1" height="26" fill="#c0c0c0"/>
<rect x="701" y="567" width="1" height="32" fill="#c0c0c0"/>
<rect x="709" y="563" width="1" height="36" fill="#c0c0c0"/>
<rect x="717" y="560" width="1" height="39" fill="#c0c0c0"/>
<rect x="725" y="551" width="1" height="48" fill="#c0c0c0"/>
<rect x="733" y="544" width="1" height="55" fill="#c0c0c0"/>
<rect x="741" y="540" width="1" height="59" fill="#c0c0c0"/>
<rect x="749" y="538" width="1" height="61" fill="#c0c0c0"/>
<rect x="757" y="537" width="1" height="62" fill="#c0c0c0"/>
<rect x="765" y="532" width="1" height="67" fill="#c0c0c0"/>
<rect x="773" y="531" width="1" height="68" fill="#c0c0c0"/>
<rect x="781" y="536" width="1" height="63" fill="#c0c0c0"/>
<rect x="789" y="541" width="1" height="58" fill="#c0c0c0"/>
<rect x="797" y="546" width="1" height="53" fill="#c0c0c0"/>
<rect x="805" y="549" width="1" height="50" fill="#c0c0c0"/>
<rect x="813" y="553" width="1" height="46" fill="#c0c0c0"/>
<rect x="821" y="556" width="1" height="43" fill="#c0c0c0"/>
<rect x="829" y="556" width="1" height="43" fill="#c0c0c0"/>
<rect x="837" y="557" width="1" height="42" fill="#c0c0c0"/>
<rect x="845" y="559" width="1" height="40" fill="#c0c0c0"/>
<rect x="853" y="558" width="1" height="41" fill="#c0c0c0"/>
<rect x="861" y="558" width="1" height="41" fill="#c0c0c0"/>
<rect x="869" y="558" width="1" height="41" fill="#c0c0c0"/>
<rect x="877" y="553" width="1" height="46" fill="#c0c0c0"/>
<rect x="885" y="549" width="1" height="50" fill="#c0c0c0"/>
<rect x="893" y="548" width="1" height="51" fill="#c0c0c0"/>
<rect x="901" y="547" width="1" height="52" fill="#c0c0c0"/>
<rect x="909" y="548" width="1" height="51" fill="#c0c0c0"/>
<rect x="917" y="552" width="1" height="47" fill="#c0c0c0"/>
<rect x="925" y="558" width="1" height="41" fill="#c0c0c0"/>
<rect x="933" y="562" width="1" height="37" fill="#c0c0c0"/>
<rect x="941" y="565" width="1" height="34" fill="#c0c0c0"/>
<rect x="949" y="567" width="1" height="32" fill="#c0c0c0"/>
<rect x="957" y="571" width="1" height="28" fill="#c0c0c0"/>
<rect x="965" y="570" width="1" height="29" fill="#c0c0c0"/>
<rect x="973" y="576" width="1" height="23" fill="#c0c0c0"/>
<rect x="981" y="582" width="1" height="17" fill="#c0c0c0"/>
<rect x="989" y="587" width="1" height="12" fill="#c0c0c0"/>
<rect x="997" y="588" width="1" height="11" fill="#c0c0c0"/>
<rect x="1005" y="591" width="1" height="8" fill="#c0c0c0"/>
<rect x="1013" y="594" width="1" height="5" fill="#c0c0c0"/>
<rect x="1021" y="595" width="1" height="4" fill="#c0c0c0"/>
<rect x="1029" y="595" width="1" height="4" fill="#c0c0c0"/>
<rect x="1037" y="595" width="1" height="4" fill="#c0c0c0"/>
<rect x="1045" y="596" width="1" height="3" fill="#c0c0c0"/>
<rect x="1053" y="597" width="1" height="2" fill="#c0c0c0"/>
<rect x="1061" y="596" width="1" height="3" fill="#c0c0c0"/>
<rect x="1069" y="597" width="1" height="2" fill="#c0c0c0"/>
<rect x="1085" y="598" width="1" height="2" fill="#c0c0c0"/>
<rect x="1093" y="598" width="1" height="5" fill="#c0c0c0"/>
<rect x="1101" y="598" width="1" height="9" fill="#c0c0c0"/>
<rect x="1109" y="598" width="1" height="13" fill="#c0c0c0"/>
<rect x="1117" y="598" width="1" height="12" fill="#c0c0c0"/>
<rect x="1125" y="598" width="1" height="8" fill="#c0c0c0"/>
<rect x="1133" y="598" width="1" height="4" fill="#c0c0c0"/>
<rect x="1149" y="597" width="1" height="2" fill="#c0c0c0"/>
<rect x="1165" y="598" width="1" height="5" fill="#c0c0c0"/>
<rect x="1173" y="598" width="1" height="5" fill="#c0c0c0"/>
<rect x="1181" y="598" width="1" height="6" fill="#c0c0c0"/>
<rect x="1189" y="598" width="1" height="11" fill="#c0c0c0"/>
<rect x="1197" y="598" width="1" height="13" fill="#c0c0c0"/>
<rect x="1205" y="598" width="1" height="14" fill="#c0c0c0"/>
<rect x="1213" y="598" width="1" height="16" fill="#c0c0c0"/>
<rect x="1221" y="598" width="1" height="16" fill="#c0c0c0"/>
<rect x="1229" y="598" width="1" height="16" fill="#c0c0c0"/>
<rect x="1237" y="598" width="1" height="12" fill="#c0c0c0"/>
<rect x="1245" y="598" width="1" height="10" fill="#c0c0c0"/>
<rect x="1253" y="598" width="1" height="5" fill="#c0c0c0"/>
<rect x="1261" y="595" width="1" height="4" fill="#c0c0c0"/>
<rect x="1269" y="587" width="1" height="12" fill="#c0c0c0"/>
<rect x="1277" y="582" width="1" height="17" fill="#c0c0c0"/>
<rect x="1285" y="579" width="1" height="20" fill="#c0c0c0"/>
<rect x="1293" y="578" width="1" height="21" fill="#c0c0c0"/>
<rect x="1301" y="579" width="1" height="20" fill="#c0c0c0"/>
<rect x="1309" y="584" width="1" height="15" fill="#c0c0c0"/>
<rect x="1317" y="587" width="1" height="12" fill="#c0c0c0"/>
<rect x="1325" y="589" width="1" height="10" fill="#c0c0c0"/>
<rect x="1333" y="592" width="1" height="7" fill="#c0c0c0"/>
<polyline points="4.5,603.4 36.0,604.3 54.0,606.7 72.0,607.6 97.3,607.6 108.1,609.4 117.2,610.3 126.2,613.0 133.4,616.6 142.4,623.8 149.6,629.2 158.6,635.5 167.6,644.2 176.6,650.9 187.5,659.0 194.7,663.5 205.5,666.2 216.3,664.4 228.2,658.9 240.4,648.7 250.6,637.4 260.8,625.2 271.0,612.9 281.3,602.7 291.5,594.5 301.7,586.4 311.9,580.3 322.1,575.6 334.4,572.1 342.5,570.0 352.8,567.4 363.0,563.9 373.2,560.8 383.4,558.4 399.7,556.8 414.0,556.4 432.4,558.4 452.3,559.2 460.4,558.0 476.8,557.2 484.9,556.4 505.4,556.4 513.5,558.8 523.7,562.5 531.9,566.0 542.1,571.1 554.4,578.2 564.6,584.3 574.8,590.5 583.0,595.2 595.2,597.6 603.4,600.1 623.8,600.1 634.0,598.6 644.2,597.2 656.5,595.6 670.0,594.5 680.4,592.5 692.7,590.5 711.1,583.3 721.3,578.2 731.5,570.0 741.7,561.9 751.9,554.7 762.1,548.2 772.3,543.5 782.5,540.0 794.8,537.4 807.1,538.4 823.4,541.0 837.7,546.1 847.9,550.6 864.2,554.3 876.5,555.1 890.2,554.3 900.4,553.1 910.6,552.3 916.8,551.2 941.3,552.3 951.5,554.3 961.7,557.8 971.9,561.9 982.1,567.4 992.3,571.5 1002.5,574.7 1012.8,580.3 1023.0,583.3 1033.2,586.4 1043.4,590.1 1053.6,592.5 1063.8,593.9 1080.2,595.2 1090.4,597.2 1100.0,599.2 1110.2,599.7 1116.3,602.3 1128.6,603.7 1134.7,604.4 1165.4,604.4 1177.6,602.7 1196.0,603.3 1206.2,604.8 1214.4,606.8 1222.5,609.3 1232.8,610.3 1251.1,611.3 1261.4,609.5 1269.5,606.8 1277.7,602.7 1287.9,597.2 1298.1,592.5 1308.3,589.0 1318.5,585.0 1332.8,583.3" fill="none" stroke="#ff0000" stroke-width="1" stroke-dasharray="3,3"/>
</g>
<text class="t" x="8.45" y="534" textLength="119.03" lengthAdjust="spacingAndGlyphs">MACD(12,26,9) 1.219 2.416</text>
<rect x="1682" y="523" width="1" height="1" fill="#000"/>
<rect x="1682" y="598" width="1" height="1" fill="#000"/>
<rect x="1682" y="684" width="1" height="1" fill="#000"/>
<text class="t" x="1685.47" y="532" textLength="28.48" lengthAdjust="spacingAndGlyphs">12.245</text>
<text class="t" x="1685.40" y="602" textLength="17.52" lengthAdjust="spacingAndGlyphs">0.00</text>
<text class="t" x="1685.40" y="682" textLength="30.93" lengthAdjust="spacingAndGlyphs">-14.021</text>
<g clip-path="url(#cr)" shape-rendering="crispEdges">
<line x1="6" y1="725.5" x2="1681" y2="725.5" stroke="#b4b4b4" stroke-width="1" stroke-dasharray="3,3"/>
<line x1="6" y1="773.5" x2="1681" y2="773.5" stroke="#b4b4b4" stroke-width="1" stroke-dasharray="3,3"/>
<polyline points="5.5,752.3 13.5,758.4 21.5,757.1 29.5,760.4 37.5,756.3 45.5,759.6 53.5,745.3 61.5,749.4 69.5,749.4 77.5,752.3 85.5,756.3 93.5,756.3 101.5,772.5 109.5,772.5 117.5,771.2 125.5,775.7 133.5,782.2 141.5,786.2 149.5,787.5 157.5,789.5 165.5,782.5 173.5,785.4 181.5,778.1 189.5,776.2 197.5,749.4 205.5,749.4 213.5,749.4 221.5,745.0 229.5,739.0 237.5,741.3 245.5,732.4 253.5,732.4 261.5,732.4 269.5,733.7 277.5,738.1 285.5,736.4 293.5,738.1 301.5,733.4 309.5,737.4 317.5,735.3 325.5,732.4 333.5,732.4 341.5,729.2 349.5,722.4 357.5,727.2 365.5,726.4 373.5,735.3 381.5,732.4 389.5,742.3 397.5,735.3 405.5,740.2 413.5,741.3 421.5,739.0 429.5,732.9 437.5,728.8 445.5,725.3 453.5,725.3 461.5,728.4 469.5,729.3 477.5,739.0 485.5,742.3 493.5,743.4 501.5,745.5 509.5,747.4 517.5,752.3 525.5,751.5 533.5,746.6 541.5,760.4 549.5,759.6 557.5,760.4 565.5,760.4 573.5,765.2 581.5,762.0 589.5,741.4 597.5,740.2 605.5,738.1 613.5,742.3 621.5,741.3 629.5,741.3 637.5,753.1 645.5,753.1 653.5,753.1 661.5,750.3 669.5,740.2 677.5,741.3 685.5,722.4 693.5,725.3 701.5,726.1 709.5,727.2 717.5,727.2 725.5,717.2 733.5,717.2 741.5,719.1 749.5,721.2 757.5,721.2 765.5,715.4 773.5,724.0 781.5,738.1 789.5,739.3 797.5,738.1 805.5,737.4 813.5,739.3 821.5,737.4 829.5,732.4 837.5,734.2 845.5,735.3 853.5,730.5 861.5,730.0 869.5,729.3 877.5,720.8 885.5,719.1 893.5,722.4 901.5,722.9 909.5,727.7 917.5,736.1 925.5,745.5 933.5,742.6 941.5,742.6 949.5,739.3 957.5,744.5 965.5,734.2 973.5,753.1 981.5,753.1 989.5,755.5 997.5,747.1 1005.5,750.3 1013.5,753.6 1021.5,750.3 1029.5,747.4 1037.5,748.2 1045.5,749.4 1053.5,751.5 1061.5,745.5 1069.5,751.1 1077.5,753.1 1085.5,755.5 1093.5,760.4 1101.5,762.8 1109.5,766.0 1117.5,752.3 1125.5,742.6 1133.5,741.3 1141.5,740.2 1149.5,744.2 1157.5,751.5 1165.5,762.0 1173.5,752.3 1181.5,753.6 1189.5,760.4 1197.5,757.1 1205.5,755.5 1213.5,758.4 1221.5,757.1 1229.5,756.3 1237.5,747.8 1245.5,746.1 1253.5,741.8 1261.5,730.1 1269.5,731.3 1277.5,731.3 1285.5,734.8 1293.5,738.5 1301.5,744.2 1309.5,754.2 1317.5,751.5 1325.5,750.3 1333.5,750.3" fill="none" stroke="#1e90ff" stroke-width="1"/>
</g>
<text class="t" x="9.47" y="700" textLength="68.29" lengthAdjust="spacingAndGlyphs">RSI(14) 48.7969</text>
<rect x="1682" y="725" width="2" height="1" fill="#000"/>
<rect x="1682" y="773" width="2" height="1" fill="#000"/>
<text class="t" x="1685.46" y="698" textLength="15.64" lengthAdjust="spacingAndGlyphs">100</text>
<text class="t" x="1684.40" y="729" textLength="10.11" lengthAdjust="spacingAndGlyphs">70</text>
<text class="t" x="1684.40" y="777" textLength="10.11" lengthAdjust="spacingAndGlyphs">30</text>
<text class="t" x="1685.40" y="807" textLength="4.64" lengthAdjust="spacingAndGlyphs">0</text>
<rect x="1682" y="689" width="1" height="1" fill="#000"/>
<rect x="5" y="811" width="1" height="3" fill="#000"/>
<text class="t" x="4.40" y="823" textLength="52.15" lengthAdjust="spacingAndGlyphs">25 Mar 2021</text>
<rect x="69" y="811" width="1" height="3" fill="#000"/>
<text class="t" x="68.40" y="823" textLength="55.94" lengthAdjust="spacingAndGlyphs">28 Mar 23:00</text>
<rect x="133" y="811" width="1" height="3" fill="#000"/>
<text class="t" x="132.40" y="823" textLength="54.94" lengthAdjust="spacingAndGlyphs">30 Mar 04:00</text>
<rect x="197" y="811" width="1" height="3" fill="#000"/>
<text class="t" x="196.40" y="823" textLength="55.94" lengthAdjust="spacingAndGlyphs">31 Mar 12:00</text>
<rect x="261" y="811" width="1" height="3" fill="#000"/>
<text class="t" x="259.46" y="823" textLength="48.09" lengthAdjust="spacingAndGlyphs">1 Apr 20:00</text>
<rect x="325" y="811" width="1" height="3" fill="#000"/>
<text class="t" x="324.40" y="823" textLength="48.09" lengthAdjust="spacingAndGlyphs">6 Apr 00:00</text>
<rect x="389" y="811" width="1" height="3" fill="#000"/>
<text class="t" x="388.40" y="823" textLength="48.09" lengthAdjust="spacingAndGlyphs">7 Apr 08:00</text>
<rect x="453" y="811" width="1" height="3" fill="#000"/>
<text class="t" x="452.40" y="823" textLength="48.09" lengthAdjust="spacingAndGlyphs">8 Apr 16:00</text>
<rect x="517" y="811" width="1" height="3" fill="#000"/>
<text class="t" x="515.46" y="823" textLength="53.32" lengthAdjust="spacingAndGlyphs">12 Apr 00:00</text>
<rect x="581" y="811" width="1" height="3" fill="#000"/>
<text class="t" x="579.46" y="823" textLength="53.32" lengthAdjust="spacingAndGlyphs">13 Apr 08:00</text>
<rect x="645" y="811" width="1" height="3" fill="#000"/>
<text class="t" x="643.46" y="823" textLength="53.32" lengthAdjust="spacingAndGlyphs">14 Apr 16:00</text>
<rect x="709" y="811" width="1" height="3" fill="#000"/>
<text class="t" x="707.46" y="823" textLength="53.32" lengthAdjust="spacingAndGlyphs">16 Apr 00:00</text>
<rect x="773" y="811" width="1" height="3" fill="#000"/>
<text class="t" x="771.46" y="823" textLength="53.32" lengthAdjust="spacingAndGlyphs">19 Apr 08:00</text>
<rect x="837" y="811" width="1" height="3" fill="#000"/>
<text class="t" x="836.40" y="823" textLength="53.32" lengthAdjust="spacingAndGlyphs">20 Apr 16:00</text>
<rect x="901" y="811" width="1" height="3" fill="#000"/>
<text class="t" x="900.40" y="823" textLength="53.32" lengthAdjust="spacingAndGlyphs">22 Apr 00:00</text>
<rect x="965" y="811" width="1" height="3" fill="#000"/>
<text class="t" x="964.40" y="823" textLength="53.32" lengthAdjust="spacingAndGlyphs">23 Apr 08:00</text>
<rect x="1029" y="811" width="1" height="3" fill="#000"/>
<text class="t" x="1028.40" y="823" textLength="53.32" lengthAdjust="spacingAndGlyphs">26 Apr 16:00</text>
<rect x="1093" y="811" width="1" height="3" fill="#000"/>
<text class="t" x="1092.40" y="823" textLength="53.32" lengthAdjust="spacingAndGlyphs">28 Apr 00:00</text>
<rect x="1157" y="811" width="1" height="3" fill="#000"/>
<text class="t" x="1156.40" y="823" textLength="53.32" lengthAdjust="spacingAndGlyphs">29 Apr 08:00</text>
<rect x="1221" y="811" width="1" height="3" fill="#000"/>
<text class="t" x="1220.40" y="823" textLength="53.32" lengthAdjust="spacingAndGlyphs">30 Apr 16:00</text>
<rect x="1285" y="811" width="1" height="3" fill="#000"/>
<text class="t" x="1284.40" y="823" textLength="51.74" lengthAdjust="spacingAndGlyphs">4 May 00:00</text>
</svg>
</body></html>
